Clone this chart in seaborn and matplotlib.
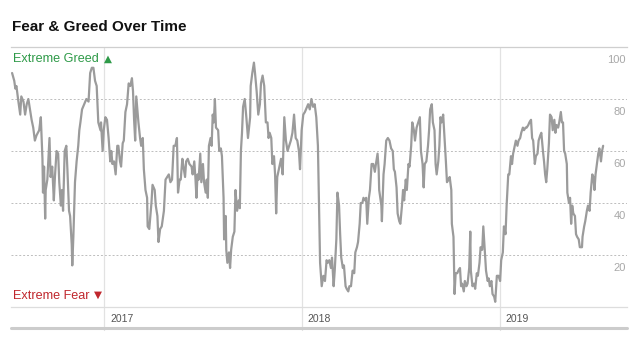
import matplotlib
matplotlib.use('Agg')
import matplotlib.pyplot as plt
import matplotlib.transforms as mtrans
from matplotlib.lines import Line2D
import seaborn as sns
import pandas as pd

# ---------------- data ----------------
dates = [
    "2016-07-16", "2016-07-20", "2016-07-22", "2016-07-24", "2016-07-27", "2016-07-31",
    "2016-08-02", "2016-08-06", "2016-08-09", "2016-08-12", "2016-08-15", "2016-08-18",
    "2016-08-21", "2016-08-24", "2016-08-27", "2016-08-30", "2016-09-04", "2016-09-07",
    "2016-09-10", "2016-09-11", "2016-09-13", "2016-09-15", "2016-09-16", "2016-09-19",
    "2016-09-23", "2016-09-25", "2016-09-28", "2016-10-01", "2016-10-03", "2016-10-06",
    "2016-10-09", "2016-10-11", "2016-10-14", "2016-10-16", "2016-10-18", "2016-10-21",
    "2016-10-24", "2016-10-26", "2016-10-29", "2016-10-31", "2016-11-03", "2016-11-04",
    "2016-11-06", "2016-11-09", "2016-11-12", "2016-11-15", "2016-11-17", "2016-11-19",
    "2016-11-22", "2016-11-26", "2016-11-30", "2016-12-04", "2016-12-07", "2016-12-10",
    "2016-12-13", "2016-12-16", "2016-12-19", "2016-12-22", "2016-12-26", "2016-12-27",
    "2016-12-30", "2017-01-01", "2017-01-04", "2017-01-07", "2017-01-10", "2017-01-13",
    "2017-01-15", "2017-01-17", "2017-01-20", "2017-01-23", "2017-01-26", "2017-01-28",
    "2017-01-31", "2017-02-02", "2017-02-05", "2017-02-07", "2017-02-10", "2017-02-13",
    "2017-02-16", "2017-02-19", "2017-02-22", "2017-02-24", "2017-02-26", "2017-02-28",
    "2017-03-02", "2017-03-04", "2017-03-06", "2017-03-09", "2017-03-11", "2017-03-14",
    "2017-03-16", "2017-03-19", "2017-03-22", "2017-03-23", "2017-03-26", "2017-03-30",
    "2017-04-01", "2017-04-05", "2017-04-07", "2017-04-10", "2017-04-12", "2017-04-15",
    "2017-04-18", "2017-04-22", "2017-04-25", "2017-04-28", "2017-05-01", "2017-05-04",
    "2017-05-07", "2017-05-10", "2017-05-13", "2017-05-16", "2017-05-18", "2017-05-21",
    "2017-05-23", "2017-05-26", "2017-05-28", "2017-05-31", "2017-06-02", "2017-06-05",
    "2017-06-08", "2017-06-12", "2017-06-14", "2017-06-17", "2017-06-19", "2017-06-21",
    "2017-06-23", "2017-06-25", "2017-06-28", "2017-06-30", "2017-07-03", "2017-07-05",
    "2017-07-08", "2017-07-10", "2017-07-12", "2017-07-14", "2017-07-17", "2017-07-19",
    "2017-07-21", "2017-07-23", "2017-07-25", "2017-07-27", "2017-07-31", "2017-08-02",
    "2017-08-05", "2017-08-07", "2017-08-10", "2017-08-11", "2017-08-14", "2017-08-15",
    "2017-08-17", "2017-08-20", "2017-08-22", "2017-08-24", "2017-08-27", "2017-08-30",
    "2017-09-01", "2017-09-04", "2017-09-07", "2017-09-09", "2017-09-11", "2017-09-13",
    "2017-09-15", "2017-09-18", "2017-09-21", "2017-09-24", "2017-09-28", "2017-09-29",
    "2017-10-02", "2017-10-05", "2017-10-07", "2017-10-10", "2017-10-13", "2017-10-16",
    "2017-10-18", "2017-10-21", "2017-10-24", "2017-10-27", "2017-10-30", "2017-11-01",
    "2017-11-03", "2017-11-06", "2017-11-08", "2017-11-11", "2017-11-13", "2017-11-15",
    "2017-11-17", "2017-11-21", "2017-11-24", "2017-11-27", "2017-11-30", "2017-12-03",
    "2017-12-06", "2017-12-09", "2017-12-12", "2017-12-15", "2017-12-18", "2017-12-21",
    "2017-12-24", "2017-12-27", "2017-12-29", "2018-01-01", "2018-01-04", "2018-01-07",
    "2018-01-11", "2018-01-13", "2018-01-16", "2018-01-19", "2018-01-22", "2018-01-25",
    "2018-01-28", "2018-01-31", "2018-02-02", "2018-02-04", "2018-02-07", "2018-02-10",
    "2018-02-13", "2018-02-16", "2018-02-18", "2018-02-21", "2018-02-24", "2018-02-26",
    "2018-03-01", "2018-03-03", "2018-03-06", "2018-03-08", "2018-03-11", "2018-03-13",
    "2018-03-15", "2018-03-18", "2018-03-20", "2018-03-23", "2018-03-25", "2018-03-28",
    "2018-03-30", "2018-04-02", "2018-04-05", "2018-04-08", "2018-04-10", "2018-04-13",
    "2018-04-15", "2018-04-18", "2018-04-20", "2018-04-23", "2018-04-25", "2018-04-28",
    "2018-04-30", "2018-05-02", "2018-05-05", "2018-05-07", "2018-05-10", "2018-05-13",
    "2018-05-16", "2018-05-18", "2018-05-21", "2018-05-23", "2018-05-24", "2018-05-28",
    "2018-05-29", "2018-06-01", "2018-06-03", "2018-06-06", "2018-06-09", "2018-06-12",
    "2018-06-15", "2018-06-18", "2018-06-20", "2018-06-22", "2018-06-25", "2018-06-27",
    "2018-06-30", "2018-07-02", "2018-07-05", "2018-07-07", "2018-07-09", "2018-07-12",
    "2018-07-14", "2018-07-17", "2018-07-19", "2018-07-22", "2018-07-24", "2018-07-27",
    "2018-07-29", "2018-08-01", "2018-08-04", "2018-08-07", "2018-08-09", "2018-08-12",
    "2018-08-14", "2018-08-16", "2018-08-19", "2018-08-22", "2018-08-24", "2018-08-26",
    "2018-08-29", "2018-08-31", "2018-09-03", "2018-09-05", "2018-09-07", "2018-09-10",
    "2018-09-12", "2018-09-14", "2018-09-16", "2018-09-19", "2018-09-21", "2018-09-24",
    "2018-09-26", "2018-09-29", "2018-10-01", "2018-10-04", "2018-10-05", "2018-10-08",
    "2018-10-10", "2018-10-12", "2018-10-15", "2018-10-17", "2018-10-20", "2018-10-22",
    "2018-10-24", "2018-10-27", "2018-10-29", "2018-11-01", "2018-11-03", "2018-11-06",
    "2018-11-08", "2018-11-09", "2018-11-12", "2018-11-15", "2018-11-17", "2018-11-20",
    "2018-11-22", "2018-11-25", "2018-11-27", "2018-11-30", "2018-12-02", "2018-12-05",
    "2018-12-07", "2018-12-10", "2018-12-12", "2018-12-14", "2018-12-17", "2018-12-19",
    "2018-12-22", "2018-12-24", "2018-12-27", "2018-12-30", "2019-01-02", "2019-01-04",
    "2019-01-07", "2019-01-09", "2019-01-12", "2019-01-14", "2019-01-17", "2019-01-19",
    "2019-01-22", "2019-01-24", "2019-01-26", "2019-01-29", "2019-01-31", "2019-02-03",
    "2019-02-05", "2019-02-08", "2019-02-10", "2019-02-13", "2019-02-15", "2019-02-18",
    "2019-02-20", "2019-02-23", "2019-02-25", "2019-02-28", "2019-03-02", "2019-03-04",
    "2019-03-07", "2019-03-09", "2019-03-12", "2019-03-14", "2019-03-17", "2019-03-19",
    "2019-03-22", "2019-03-24", "2019-03-26", "2019-03-28", "2019-03-30", "2019-04-02",
    "2019-04-04", "2019-04-07", "2019-04-09", "2019-04-12", "2019-04-14", "2019-04-16",
    "2019-04-19", "2019-04-21", "2019-04-24", "2019-04-26", "2019-04-28", "2019-04-30",
    "2019-05-02", "2019-05-05", "2019-05-06", "2019-05-09", "2019-05-11", "2019-05-13",
    "2019-05-15", "2019-05-17", "2019-05-20", "2019-05-22", "2019-05-24", "2019-05-27",
    "2019-05-29", "2019-06-02", "2019-06-03", "2019-06-06", "2019-06-08", "2019-06-11",
    "2019-06-13", "2019-06-16", "2019-06-18", "2019-06-21", "2019-06-23", "2019-06-25",
    "2019-06-27", "2019-06-30", "2019-07-02", "2019-07-04", "2019-07-07", "2019-07-09",
    "2019-07-11",
]

values = [
    90, 87, 84, 85, 80, 74,
    81, 79, 74, 78, 80, 76,
    72, 69, 64, 66, 68, 73,
    57, 44, 54, 34, 45, 49,
    65, 50, 54, 41, 50, 60,
    59, 48, 39, 45, 37, 60,
    62, 53, 37, 35, 24, 16,
    27, 48, 56, 62, 68, 71,
    76, 78, 80, 79, 90, 92,
    92, 87, 85, 71, 68, 71,
    60, 68, 73, 72, 65, 56,
    60, 55, 56, 51, 62, 62,
    56, 54, 63, 64, 75, 78,
    86, 85, 88, 83, 72, 64,
    81, 76, 71, 65, 62, 65,
    53, 45, 42, 31, 30, 40,
    47, 45, 39, 35, 25, 30,
    31, 37, 49, 50, 51, 48,
    49, 62, 62, 65, 44, 49,
    49, 57, 54, 50, 56, 57,
    55, 54, 51, 56, 50, 42,
    51, 49, 59, 48, 55, 48,
    44, 49, 42, 62, 65, 62,
    74, 71, 80, 69, 68, 60,
    61, 58, 42, 26, 35, 22,
    17, 21, 15, 22, 27, 29,
    45, 37, 41, 38, 60, 67,
    77, 80, 73, 65, 73, 85,
    90, 94, 90, 83, 74, 78,
    86, 89, 85, 71, 71, 65,
    67, 65, 55, 58, 51, 36,
    50, 54, 57, 51, 73, 64,
    60, 62, 64, 67, 74, 65,
    64, 60, 53, 68, 74, 75,
    77, 78, 76, 80, 77, 78,
    73, 62, 40, 17, 8, 12,
    10, 18, 17, 18, 15, 19,
    8, 14, 26, 44, 39, 28,
    19, 15, 16, 8, 7, 6,
    8, 8, 14, 13, 21, 23,
    25, 32, 40, 40, 42, 41,
    42, 32, 42, 45, 55, 55,
    52, 55, 59, 53, 45, 39,
    33, 51, 55, 64, 65, 64,
    61, 60, 53, 52, 46, 36,
    33, 32, 39, 45, 41, 49,
    45, 55, 54, 62, 71, 68,
    64, 69, 71, 73, 60, 55,
    46, 55, 56, 62, 68, 76,
    78, 71, 68, 55, 51, 56,
    62, 73, 71, 74, 67, 56,
    48, 49, 50, 45, 32, 27,
    5, 13, 13, 14, 15, 8,
    9, 6, 10, 8, 9, 15,
    29, 14, 8, 9, 7, 13,
    12, 17, 23, 22, 31, 21,
    14, 10, 11, 8, 10, 5,
    4, 2, 12, 12, 10, 18,
    21, 31, 28, 39, 51, 51,
    58, 55, 59, 62, 64, 62,
    64, 65, 67, 69, 68, 69,
    69, 70, 71, 72, 65, 64,
    55, 58, 59, 64, 66, 67,
    60, 56, 51, 48, 53, 63,
    74, 73, 68, 72, 67, 70,
    69, 71, 75, 71, 71, 60,
    59, 55, 44, 40, 42, 32,
    39, 36, 35, 28, 27, 26,
    23, 23, 27, 31, 33, 37,
    39, 37, 44, 51, 50, 45,
    51, 56, 59, 61, 56, 60,
    62,
]

year_ticks = ["2017-01-01", "2018-01-01", "2019-01-01"]
year_labels = ["2017", "2018", "2019"]
y_ticks = [20, 40, 60, 80, 100]
x_range = ["2016-07-14", "2019-08-24"]
title = "Fear & Greed Over Time"
greed_label = "Extreme Greed"
fear_label = "Extreme Fear"

# ---------------- style ----------------
sns.set_style("white")
plt.rcParams["font.family"] = ["Liberation Sans", "DejaVu Sans"]

fig = plt.figure(figsize=(6.43, 3.41), dpi=100)
ax = fig.add_axes([11 / 643, 34 / 341, 616 / 643, 260 / 341])

df = pd.DataFrame({"date": pd.to_datetime(dates), "value": values})
sns.lineplot(data=df, x="date", y="value", ax=ax, color="#9b9b9b",
             linewidth=1.6, zorder=3)

ax.set_xlim(pd.Timestamp(x_range[0]), pd.Timestamp(x_range[1]))
ax.set_ylim(0, 100)
ax.set_xlabel("")
ax.set_ylabel("")
ax.set_axisbelow(True)

for s in ["left", "right"]:
    ax.spines[s].set_visible(False)
ax.spines["top"].set_color("#cfcfcf")
ax.spines["top"].set_linewidth(0.9)
ax.spines["bottom"].set_color("#dddddd")
ax.spines["bottom"].set_linewidth(0.9)

# horizontal dotted grid
ax.set_yticks(y_ticks[:-1])
ax.set_yticklabels([])
ax.tick_params(axis="y", length=0)
ax.grid(axis="y", color="#bdbdbd", linestyle=(0, (2.0, 2.0)), linewidth=0.7)
ax.grid(axis="x", visible=False)

# y labels sitting below each grid line on the right
ytrans = mtrans.blended_transform_factory(ax.transAxes, ax.transData)
ytrans = mtrans.offset_copy(ytrans, fig=fig, x=-1, y=-13, units="dots")
for v in y_ticks:
    ax.text(1.0, v, str(v), transform=ytrans, ha="right", va="center",
            fontsize=8, color="#a8a8a8")

# year ticks / labels
year_dates = pd.to_datetime(year_ticks)
ax.set_xticks(year_dates)
ax.set_xticklabels(year_labels, ha="left", fontsize=7.5, color="#555555")
ax.tick_params(axis="x", length=0, pad=5)
off = mtrans.ScaledTranslation(4.5 / 72, 0, fig.dpi_scale_trans)
for lab in ax.get_xticklabels():
    lab.set_transform(lab.get_transform() + off)
for d in year_dates:
    ax.axvline(d, ymin=-0.088, ymax=1, color="#e2e2e2", lw=0.9,
               clip_on=False, zorder=1)

# thick bottom rule
ax.add_line(Line2D([0, 1], [-0.081, -0.081], transform=ax.transAxes,
                   color="#cccccc", lw=2.2, clip_on=False))

# extreme labels
green = "#2e9a48"
red = "#c0272d"
ax.text(0.003, 0.955, greed_label, transform=ax.transAxes, ha="left",
        va="center", fontsize=9.1, color=green)
ax.text(0.158, 0.953, "\u25B2", transform=ax.transAxes, ha="center",
        va="center", fontsize=7.5, color=green, family=["DejaVu Sans"])
ax.text(0.003, 0.044, fear_label, transform=ax.transAxes, ha="left",
        va="center", fontsize=9.1, color=red)
ax.text(0.141, 0.046, "\u25BC", transform=ax.transAxes, ha="center",
        va="center", fontsize=7.5, color=red, family=["DejaVu Sans"])

# title
fig.text(11.5 / 643, 1 - 27 / 341, title, ha="left", va="center",
         fontsize=11, fontweight="bold", color="#111111")

fig.savefig("out.png", dpi=100)
